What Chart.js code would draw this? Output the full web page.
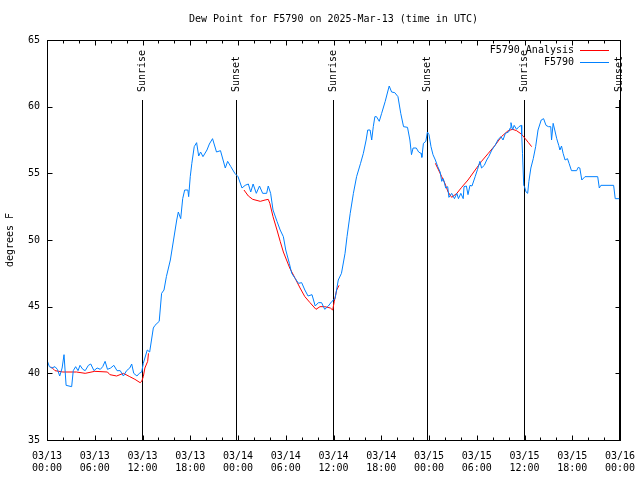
<!DOCTYPE html>
<html>
<head>
<meta charset="utf-8">
<script src="https://cdn.jsdelivr.net/npm/chart.js@4/dist/chart.umd.min.js"></script>
<style>
  html, body { margin: 0; padding: 0; background: #fff; }
  #wrap { width: 640px; height: 480px; }
</style>
</head>
<body>
<div id="wrap"><canvas id="dew" width="640" height="480"></canvas></div>
<script>
const FONT = '"DejaVu Sans Mono", monospace';
const titleText = 'Dew Point for F5790 on 2025-Mar-13 (time in UTC)';
const yAxisLabel = 'degrees F';
const anaName = 'F5790 Analysis';
const obsName = 'F5790';

// x axis: hours since 03/13 00:00 UTC
const tickDates = ['03/13', '03/13', '03/13', '03/13', '03/14', '03/14', '03/14', '03/14',
                   '03/15', '03/15', '03/15', '03/15', '03/16'];
const tickTimes = ['00:00', '06:00', '12:00', '18:00', '00:00', '06:00', '12:00', '18:00',
                   '00:00', '06:00', '12:00', '18:00', '00:00'];
const yTicks = [35, 40, 45, 50, 55, 60, 65];

const sunriseHours = [11.98, 35.95, 59.95];
const sunsetHours = [23.8, 47.78, 71.88];

// observed dew point (blue)
const obsHours = [0.0, 0.3, 0.6, 1.0, 1.3, 1.6, 1.9, 2.14, 2.4, 3.1, 3.3, 3.6, 3.9, 4.15, 4.5, 4.8,
  5.2, 5.5, 5.9, 6.3, 6.7, 7.0, 7.3, 7.6, 8.0, 8.4, 8.8, 9.2, 9.6, 10.0, 10.4, 10.64, 10.9, 11.3,
  11.6, 11.9, 12.1, 12.6, 12.9, 13.36, 13.57, 14.1, 14.4, 14.7, 15.0, 15.5, 15.9, 16.3, 16.5, 16.8,
  17.05, 17.3, 17.7, 17.8, 18.0, 18.2, 18.5, 18.8, 19.06, 19.3, 19.6, 20.1, 20.4, 20.8, 21.3, 21.8,
  22.4, 22.7, 23.1, 23.6, 24.0, 24.5, 24.9, 25.3, 25.6, 25.9, 26.3, 26.7, 27.1, 27.6, 27.8, 28.1,
  28.4, 28.9, 29.3, 29.7, 30.0, 30.45, 30.75, 31.2, 31.6, 32.0, 32.4, 32.8, 33.3, 33.7, 34.1, 34.5,
  34.9, 35.35, 35.8, 36.2, 36.6, 37.0, 37.45, 37.7, 38.1, 38.5, 38.9, 39.4, 39.75, 40.1, 40.3, 40.6,
  40.8, 41.0, 41.2, 41.4, 41.75, 42.05, 42.5, 42.8, 43.0, 43.3, 43.7, 44.1, 44.45, 44.8, 45.3, 45.6,
  45.8, 46.0, 46.4, 46.7, 47.0, 47.1, 47.3, 47.6, 47.8, 48.0, 48.25, 48.5, 48.8, 49.1, 49.4, 49.6,
  49.8, 50.1, 50.35, 50.5, 50.85, 51.2, 51.5, 51.7, 52.0, 52.3, 52.4, 52.7, 52.9, 53.15, 53.4, 53.8,
  54.1, 54.4, 54.6, 54.95, 55.25, 55.5, 55.9, 56.3, 56.7, 57.05, 57.3, 57.6, 58.0, 58.2, 58.3, 58.5,
  58.7, 59.0, 59.3, 59.6, 59.65, 59.75, 59.9, 60.0, 60.2, 60.4, 60.55, 60.8, 61.1, 61.4, 61.7, 62.1,
  62.4, 62.7, 63.0, 63.3, 63.4, 63.6, 63.8, 64.05, 64.3, 64.45, 64.65, 64.85, 65.1, 65.4, 65.6, 65.9,
  66.55, 66.75, 66.95, 67.2, 67.6, 69.2, 69.4, 69.6, 71.2, 71.4, 71.9];
const obsDewpt = [41.0, 40.5, 40.4, 40.5, 40.3, 39.8, 40.4, 41.4, 39.1, 39.0, 40.2, 40.5, 40.2, 40.6, 40.3, 40.2,
  40.6, 40.7, 40.2, 40.4, 40.3, 40.5, 40.9, 40.3, 40.4, 40.6, 40.2, 40.2, 39.8, 40.2, 40.4, 40.7, 40.0, 39.8,
  40.0, 40.1, 40.75, 41.75, 41.6, 43.4, 43.6, 43.9, 46.0, 46.25, 47.25, 48.5, 50.0, 51.5, 52.1, 51.6,
  53.1, 53.75, 53.75, 53.25, 54.75, 55.75, 57.0, 57.3, 56.3, 56.6, 56.25, 56.75, 57.2, 57.6, 56.6, 56.7,
  55.4, 55.9, 55.5, 55.0, 54.75, 53.9, 54.1, 54.2, 53.6, 54.2, 53.5, 54.05, 53.5, 53.5, 54.05, 53.5,
  52.25, 51.4, 50.75, 50.25, 49.25, 48.25, 47.5, 47.1, 46.75, 46.8, 46.25, 45.8, 45.9, 45.05, 45.3, 45.3,
  44.8, 45.05, 45.4, 45.6, 47.0, 47.5, 49.0, 50.25, 52.0, 53.5, 54.75, 55.75, 56.5, 57.5, 58.25, 58.25,
  57.5, 58.5, 59.25, 59.25, 58.9, 59.5, 60.4, 61.1, 61.55, 61.1, 61.05, 60.75, 59.5, 58.5, 58.45, 57.5,
  56.4, 56.9, 56.9, 56.6, 56.5, 56.2, 57.25, 57.4, 58.1, 57.9, 57.0, 56.4, 56.0, 55.5, 55.1, 54.4,
  54.6, 53.9, 54.0, 53.2, 53.5, 53.1, 53.5, 53.1, 53.5, 53.1, 54.0, 54.05, 53.4, 54.1, 54.05, 54.75,
  55.3, 55.9, 55.4, 55.6, 56.0, 56.25, 56.75, 57.1, 57.55, 57.75, 57.5, 58.0, 58.1, 58.4, 58.8, 58.25,
  58.6, 58.3, 58.5, 58.6, 57.9, 56.5, 54.1, 54.0, 53.6, 53.5, 54.4, 55.4, 56.1, 57.0, 58.25, 59.0,
  59.1, 58.6, 58.5, 58.5, 57.5, 58.75, 58.25, 57.6, 57.1, 56.75, 57.05, 56.5, 56.0, 56.1, 55.75, 55.2,
  55.2, 55.45, 55.4, 54.5, 54.75, 54.75, 53.9, 54.1, 54.1, 53.1, 53.1];

// analysis (red), null = no analysis
const anaHours = [0.5, 1.0, 2.0, 3.7, 4.8, 6.0, 7.6, 7.9, 8.75, 9.6, 10.4, 11.05, 11.7, 11.9, 12.1, 12.3,
  12.65, 12.75, 18.0,
  24.75, 25.3, 25.85, 26.8, 27.4, 27.8, 28.0, 28.4, 28.9, 29.3, 29.7, 30.1, 30.5, 31.2, 31.8, 32.4,
  33.05, 33.8, 34.3, 34.9, 35.6, 35.9, 36.1, 36.4, 36.7, 42.0,
  48.8, 49.2, 49.6, 50.0, 50.4, 50.85, 51.5, 52.1, 52.9, 53.8, 54.6, 55.45, 56.3, 57.1, 57.95, 58.5,
  59.0, 59.6, 60.1, 60.5, 60.9];
const anaDewpt = [40.5, 40.2, 40.1, 40.1, 40.0, 40.15, 40.1, 39.9, 39.8, 40.0, 39.75, 39.55, 39.3, 39.4, 39.75, 40.4,
  40.9, 41.5, null,
  53.75, 53.3, 53.05, 52.9, 53.0, 53.05, 52.75, 51.75, 50.75, 49.9, 49.1, 48.5, 47.9, 47.1, 46.4, 45.75,
  45.3, 44.8, 45.0, 45.0, 44.9, 44.75, 45.4, 46.25, 46.6, null,
  55.75, 55.25, 54.75, 54.25, 53.6, 53.2, 53.5, 53.95, 54.5, 55.25, 55.9, 56.5, 57.1, 57.75, 58.2, 58.3,
  58.2, 57.95, 57.6, 57.3, 57.0];

const RED = '#ff0000';
const BLUE = '#0080ff';

// gnuplot-like decorations: frame, inward ticks, sun lines, title, legend
const gnuplotDecor = {
    id: 'gnuplotDecor',
    beforeDatasetsDraw(chart) {
        const ctx = chart.ctx;
        const xs = chart.scales.x;
        const a = chart.chartArea;
        ctx.save();
        ctx.strokeStyle = '#000';
        ctx.lineWidth = 1;
        ctx.fillStyle = '#000';
        ctx.font = '10px ' + FONT;
        const draw = (h, label) => {
            const px = Math.round(xs.getPixelForValue(h)) + 0.5;
            ctx.beginPath();
            ctx.moveTo(px, a.top + 60);
            ctx.lineTo(px, a.bottom);
            ctx.stroke();
            ctx.save();
            ctx.translate(px, a.top + 52);
            ctx.rotate(-Math.PI / 2);
            ctx.textAlign = 'left';
            ctx.textBaseline = 'middle';
            ctx.fillText(label, 0, 0);
            ctx.restore();
        };
        sunriseHours.forEach(h => draw(h, 'Sunrise'));
        sunsetHours.forEach(h => draw(h, 'Sunset'));
        ctx.restore();
    },
    afterDraw(chart) {
        const ctx = chart.ctx;
        const xs = chart.scales.x, ys = chart.scales.y;
        const a = chart.chartArea;
        ctx.save();
        ctx.strokeStyle = '#000';
        ctx.lineWidth = 1;
        const L = Math.round(a.left) + 0.5, R = Math.round(a.right) + 0.5;
        const T = Math.round(a.top) + 0.5, B = Math.round(a.bottom) + 0.5;
        ctx.strokeRect(L, T, R - L, B - T);

        ctx.beginPath();
        for (let h = 0; h <= 72; h += 2) {
            const px = Math.round(xs.getPixelForValue(h)) + 0.5;
            const len = h % 6 === 0 ? 5 : 3;
            ctx.moveTo(px, B); ctx.lineTo(px, B - len);
            ctx.moveTo(px, T); ctx.lineTo(px, T + len);
        }
        yTicks.forEach(v => {
            const py = Math.round(ys.getPixelForValue(v)) + 0.5;
            ctx.moveTo(L, py); ctx.lineTo(L + 5, py);
            ctx.moveTo(R, py); ctx.lineTo(R - 5, py);
        });
        ctx.stroke();

        ctx.fillStyle = '#000';
        ctx.font = '10px ' + FONT;
        ctx.textAlign = 'center';
        ctx.textBaseline = 'middle';
        ctx.fillText(titleText, (a.left + a.right) / 2, 19);

        ctx.save();
        ctx.translate(10, (a.top + a.bottom) / 2);
        ctx.rotate(-Math.PI / 2);
        ctx.fillText(yAxisLabel, 0, 0);
        ctx.restore();

        // legend
        const entries = [[anaName, RED], [obsName, BLUE]];
        entries.forEach(([name, col], i) => {
            const y = a.top + 10 + i * 12;
            ctx.textAlign = 'right';
            ctx.fillStyle = '#000';
            ctx.fillText(name, a.right - 46, y);
            ctx.strokeStyle = col;
            ctx.beginPath();
            ctx.moveTo(a.right - 40, Math.round(y) + 0.5);
            ctx.lineTo(a.right - 11, Math.round(y) + 0.5);
            ctx.stroke();
        });
        ctx.restore();
    }
};

const chart = new Chart(document.getElementById('dew'), {
    type: 'line',
    data: {
        datasets: [{
            label: anaName,
            data: anaHours.map((h, i) => ({x: h, y: anaDewpt[i]})),
            borderColor: RED,
            borderWidth: 1,
            pointRadius: 0,
            spanGaps: false,
            order: 1
        }, {
            label: obsName,
            data: obsHours.map((h, i) => ({x: h, y: obsDewpt[i]})),
            borderColor: BLUE,
            borderWidth: 1,
            pointRadius: 0,
            order: 0
        }]
    },
    options: {
        responsive: false,
        animation: false,
        devicePixelRatio: 1,
        layout: {padding: {top: 40, right: 20, left: 0, bottom: 0}},
        plugins: {legend: {display: false}, tooltip: {enabled: false}, title: {display: false}},
        scales: {
            x: {
                type: 'linear', min: 0, max: 72,
                afterFit(s) { s.height = 40; s.paddingLeft = 0; s.paddingRight = 0; },
                afterBuildTicks(s) { s.ticks = tickTimes.map((t, i) => ({value: i * 6})); },
                grid: {display: false, drawTicks: false},
                border: {display: false},
                ticks: {
                    callback: v => [tickDates[Math.round(v / 6)], tickTimes[Math.round(v / 6)]],
                    maxRotation: 0, autoSkip: false, padding: 10, color: '#000',
                    font: {family: FONT, size: 10}
                }
            },
            y: {
                min: 35, max: 65,
                afterFit(s) { s.width = 47; s.paddingTop = 0; s.paddingBottom = 0; },
                afterBuildTicks(s) { s.ticks = yTicks.map(v => ({value: v})); },
                grid: {display: false, drawTicks: false},
                border: {display: false},
                ticks: {padding: 7, color: '#000', font: {family: FONT, size: 10}}
            }
        }
    },
    plugins: [gnuplotDecor]
});
</script>
</body>
</html>
